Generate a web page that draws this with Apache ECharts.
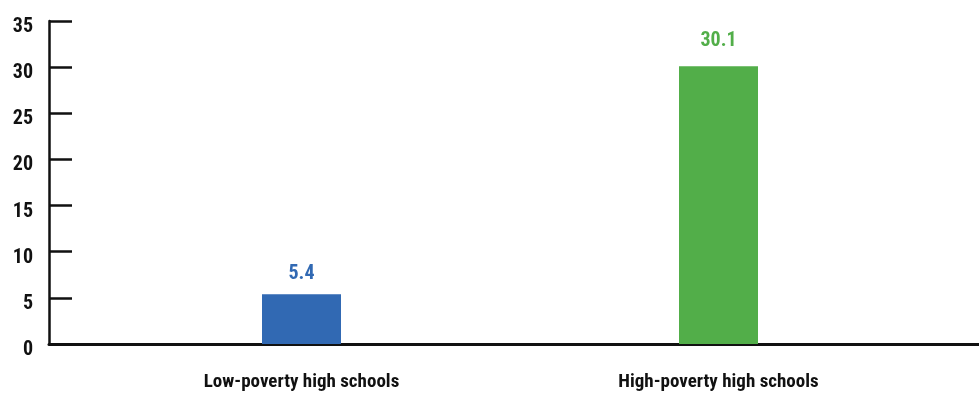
<!DOCTYPE html>
<html><head><meta charset="utf-8">
<script src="https://cdn.jsdelivr.net/npm/echarts@6/dist/echarts.min.js"></script>
<style>html,body{margin:0;padding:0;background:#fff}#c{width:979px;height:393px}</style>
</head><body><div id="c"></div>
<script>
const categories = ['Low-poverty high schools', 'High-poverty high schools'];
const values = [5.4, 30.1];
const yTicks = [0, 5, 10, 15, 20, 25, 30, 35];

const barColors = ['#3169B3', '#52AE49'];
const labelGaps = [10.5, 15.5];
const FONT = '"Liberation Sans Narrow", "Roboto Condensed", "Arial Narrow", sans-serif';

const chart = echarts.init(document.getElementById('c'));
chart.setOption({
  animation: false,
  grid: [
    { left: 49, right: 0, top: 21, bottom: 49 },
    { left: 93, right: 52, top: 21, bottom: 49 }
  ],
  xAxis: [
    { type: 'category', gridIndex: 0, data: categories,
      axisLine: { show: true, lineStyle: { color: '#111', width: 3 } },
      axisTick: { show: false }, axisLabel: { show: false } },
    { type: 'category', gridIndex: 1, data: categories,
      axisLine: { show: false }, axisTick: { show: false },
      axisLabel: { fontFamily: FONT, fontWeight: 'bold', fontSize: 19, color: '#111', margin: 29 } }
  ],
  yAxis: [
    { type: 'value', gridIndex: 0, min: yTicks[0], max: yTicks[yTicks.length - 1], interval: 5,
      axisLine: { show: true, lineStyle: { color: '#111', width: 2.5 } },
      axisTick: { show: true, inside: true, length: 23, lineStyle: { color: '#111', width: 2.5 } },
      splitLine: { show: false },
      axisLabel: { fontFamily: FONT, fontWeight: 'bold', fontSize: 20, color: '#111', margin: 16,
        verticalAlign: 'top', lineHeight: 12 } },
    { type: 'value', gridIndex: 1, min: yTicks[0], max: yTicks[yTicks.length - 1], interval: 5, show: false,
      splitLine: { show: false } }
  ],
  series: [{
    type: 'bar', xAxisIndex: 1, yAxisIndex: 1, barWidth: 79,
    data: values.map((v, i) => ({ value: v, itemStyle: { color: barColors[i] },
      label: { color: barColors[i], distance: labelGaps[i] } })),
    label: { show: true, position: 'top', fontFamily: FONT, fontWeight: 'bold', fontSize: 20 }
  }]
});
</script></body></html>
